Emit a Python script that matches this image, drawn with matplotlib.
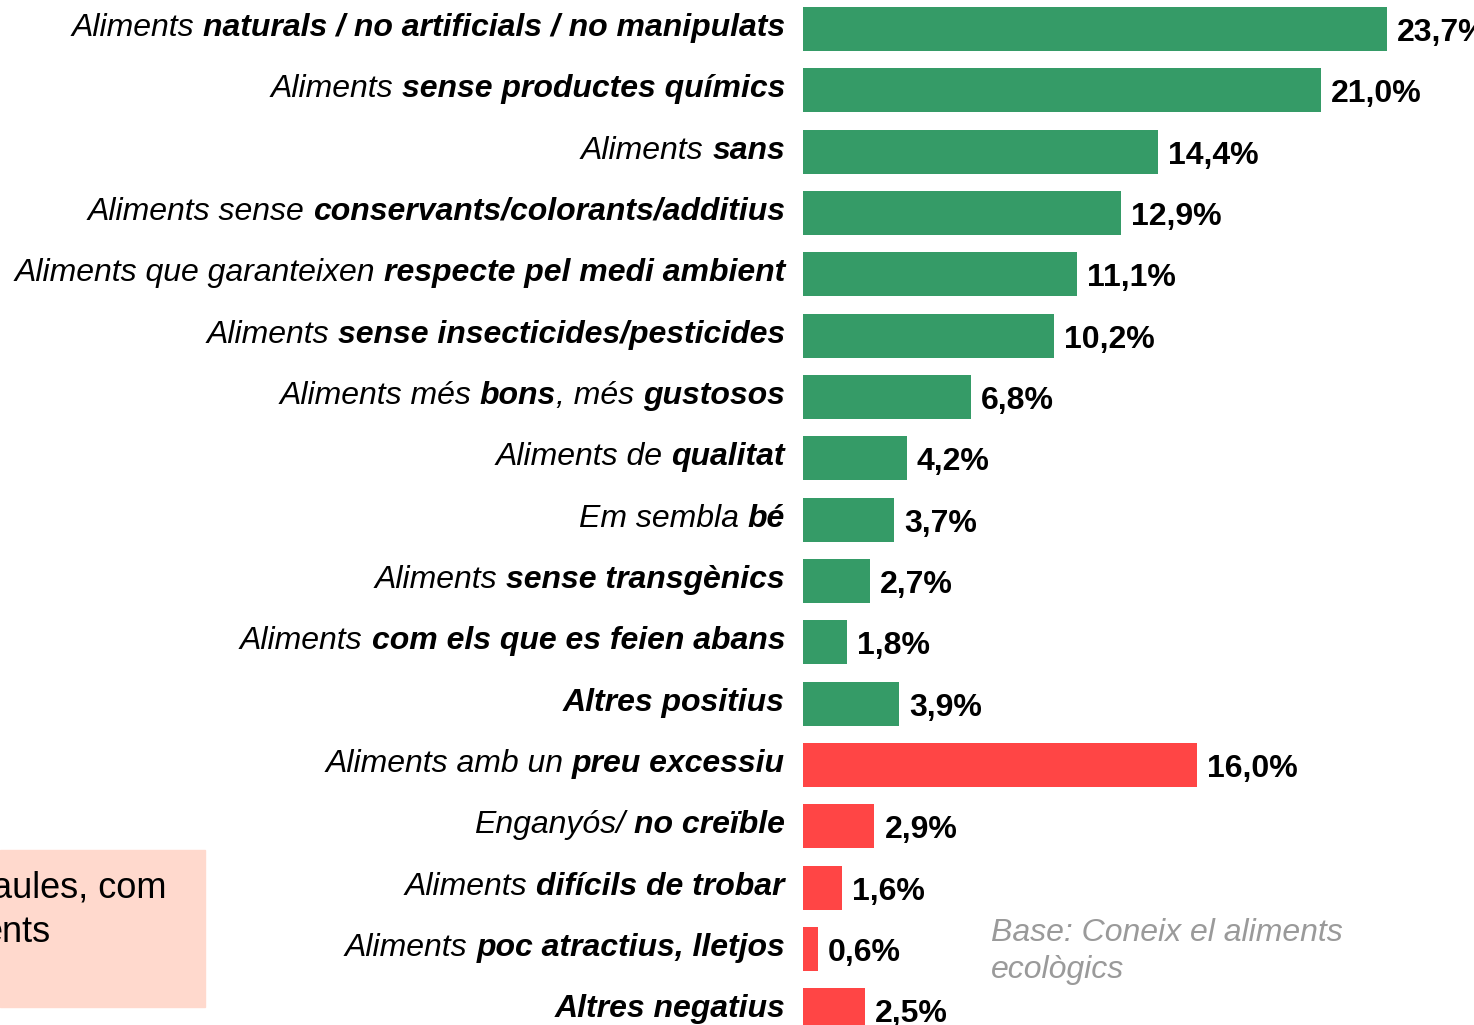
import matplotlib
matplotlib.use("Agg")
import matplotlib.pyplot as plt
from matplotlib.transforms import offset_copy

# dades
labels = [
    [("Aliments ", 0), ("naturals / no artificials / no manipulats", 1)],
    [("Aliments ", 0), ("sense productes químics", 1)],
    [("Aliments ", 0), ("sans", 1)],
    [("Aliments sense ", 0), ("conservants/colorants/additius", 1)],
    [("Aliments que garanteixen ", 0), ("respecte pel medi ambient", 1)],
    [("Aliments ", 0), ("sense insecticides/pesticides", 1)],
    [("Aliments més ", 0), ("bons", 1), (", més ", 0), ("gustosos", 1)],
    [("Aliments de ", 0), ("qualitat", 1)],
    [("Em sembla ", 0), ("bé", 1)],
    [("Aliments ", 0), ("sense transgènics", 1)],
    [("Aliments ", 0), ("com els que es feien abans", 1)],
    [("Altres positius", 1)],
    [("Aliments amb un ", 0), ("preu excessiu", 1)],
    [("Enganyós/ ", 0), ("no creïble", 1)],
    [("Aliments ", 0), ("difícils de trobar", 1)],
    [("Aliments ", 0), ("poc atractius, lletjos", 1)],
    [("Altres negatius", 1)],
]
values = [23.7, 21.0, 14.4, 12.9, 11.1, 10.2, 6.8, 4.2, 3.7, 2.7, 1.8, 3.9,
          16.0, 2.9, 1.6, 0.6, 2.5]
positive = [True] * 12 + [False] * 5

green = "#359B67"
red = "#FF4545"

plt.rcParams['font.family'] = ['Liberation Sans', 'DejaVu Sans']

fig = plt.figure(figsize=(14.74, 10.25), dpi=100)
ax = fig.add_axes([803 / 1474, 0, 671 / 1474, 1])

y = list(range(len(values)))
colors = [green if p else red for p in positive]
ax.barh(y, values, height=0.717, color=colors)
ax.set_xlim(0, 671 / 24.65)
ax.set_ylim(16.24, -0.473)
ax.axis("off")

# etiquetes de valor
for yi, v in zip(y, values):
    t = offset_copy(ax.transData, fig=fig, x=10, y=-12, units="dots")
    ax.text(v, yi, f"{v:.1f}%".replace(".", ","), transform=t, ha="left",
            va="baseline", fontsize=23, fontweight="bold", clip_on=False)

# etiquetes de categoria amb parts en negreta
renderer = fig.canvas.get_renderer()
fs = 23
def width(s, bold):
    tt = fig.text(0, 0, s, fontsize=fs, style="italic",
                  fontweight="bold" if bold else "normal")
    w = tt.get_window_extent(renderer).width
    tt.remove()
    return w

for yi, segs in zip(y, labels):
    dx = -18
    for s, b in reversed(segs):
        trail = len(s) - len(s.rstrip())
        if trail:
            dx -= (width("a a", b) - width("aa", b)) * trail
        core = s.strip()
        lead = len(s) - len(s.lstrip())
        t = offset_copy(ax.get_yaxis_transform(), fig=fig, x=dx, y=-7, units="dots")
        tx = ax.text(0, yi, core, transform=t, ha="right", va="baseline",
                     fontsize=fs, style="italic",
                     fontweight="bold" if b else "normal", clip_on=False)
        dx -= tx.get_window_extent(renderer).width
        if lead:
            dx -= (width("a a", b) - width("aa", b)) * lead

# caixa rosa retallada
fig.patches.append(plt.Rectangle((0, 1 - 1007 / 1025), 205 / 1474, 157 / 1025,
                                 transform=fig.transFigure, color="#FFD9CD",
                                 zorder=0))
fig.text(-8 / 1474, 1 - 898 / 1025, "aules, com", fontsize=26, ha="left",
         va="baseline")
fig.text(-17 / 1474, 1 - 942 / 1025, "ents", fontsize=26, ha="left",
         va="baseline")

fig.text(991 / 1474, 1 - 941 / 1025, "Base: Coneix el aliments",
         fontsize=23, style="italic", color="#9A9A9A", ha="left", va="baseline")
fig.text(991 / 1474, 1 - 978 / 1025, "ecològics",
         fontsize=23, style="italic", color="#9A9A9A", ha="left", va="baseline")

fig.savefig("out.png", dpi=100)
